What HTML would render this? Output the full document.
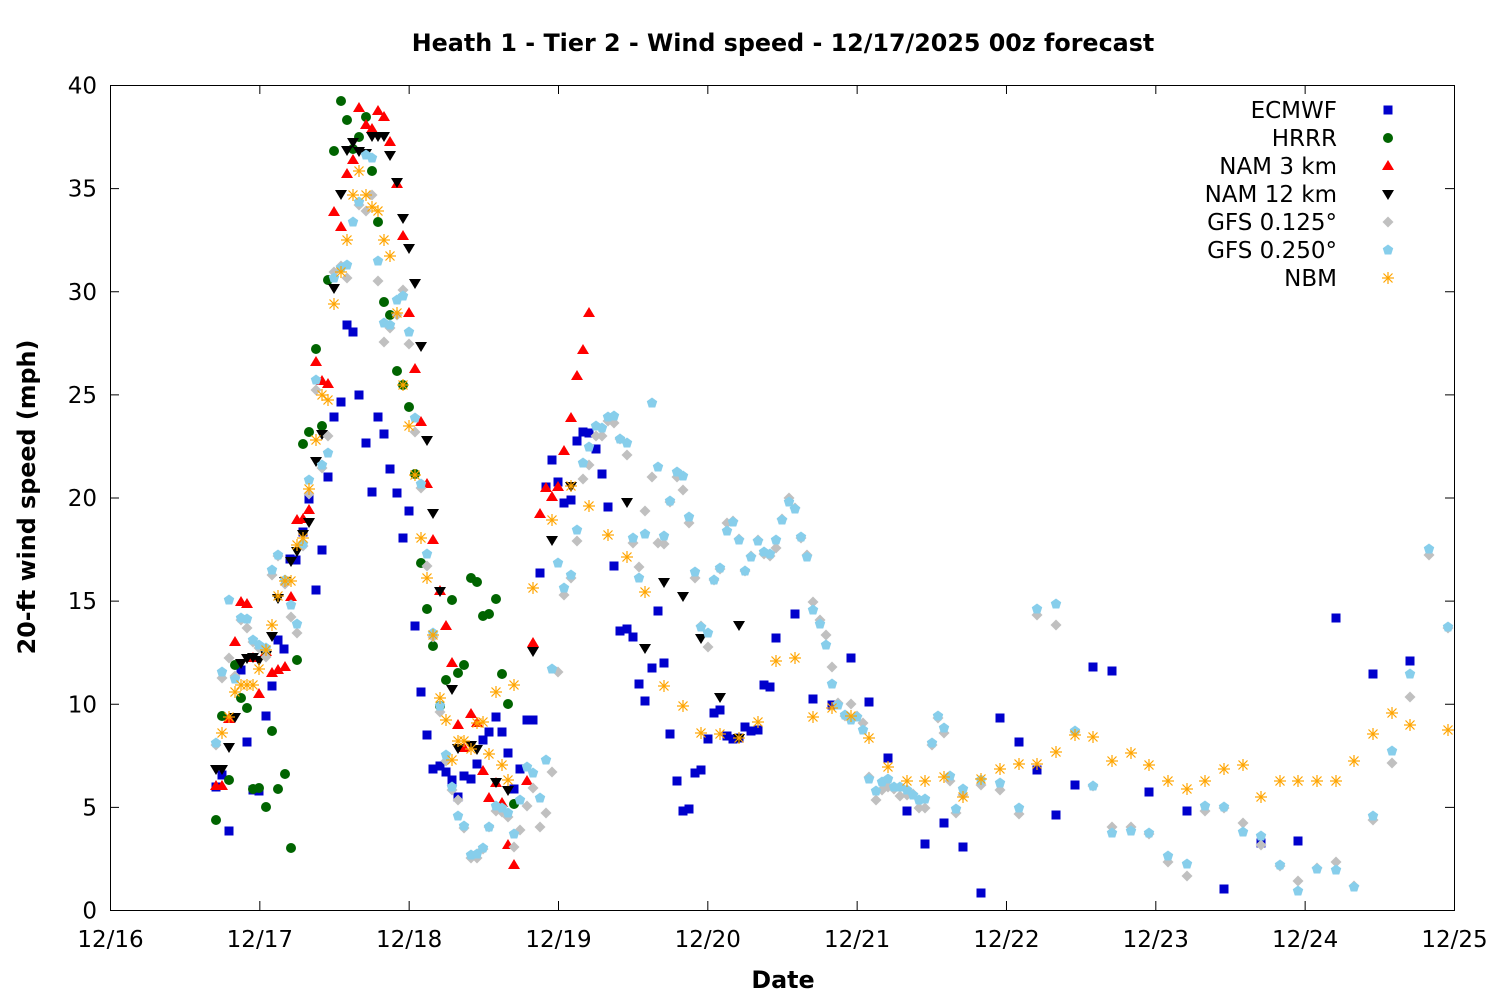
<!DOCTYPE html>
<html><head><meta charset="utf-8"><style>body{margin:0;background:#fff}svg{display:block}text{font-family:"DejaVu Sans","Liberation Sans",sans-serif;font-size:23px}</style></head>
<body>
<svg id="s" width="1500" height="1000" xmlns="http://www.w3.org/2000/svg">
<rect width="1500" height="1000" fill="#fff"/>
<text x="783" y="51" text-anchor="middle" font-weight="bold" style="font-size:23.8px">Heath 1 - Tier 2 - Wind speed - 12/17/2025 00z forecast</text>
<text x="783" y="988" text-anchor="middle" font-weight="bold" style="font-size:23.8px">Date</text>
<text transform="translate(35,497) rotate(-90)" text-anchor="middle" font-weight="bold" style="font-size:23.8px">20-ft wind speed (mph)</text>
<g id="ax"></g>
<g id="pts"></g>
<rect x="110.5" y="85.5" width="1344" height="825" fill="none" stroke="#000" stroke-width="1"/>
</svg>
<script>
const NS="http://www.w3.org/2000/svg";
function el(t,a,p,txt){const e=document.createElementNS(NS,t);for(const k in a)e.setAttribute(k,a[k]);if(txt!==undefined)e.textContent=txt;p.appendChild(e);return e;}
const ax=document.getElementById('ax'),P=document.getElementById('pts');
for(let i=0;i<=8;i++){const v=i*5,y=910-v*20.625+0.5;
 if(i>0&&i<8){el('line',{x1:110,y1:y,x2:119,y2:y,stroke:'#000'},ax);el('line',{x1:1445,y1:y,x2:1454,y2:y,stroke:'#000'},ax);}
 el('text',{x:97,y:y+8,'text-anchor':'end'},ax,String(v));}
const days=['12/16','12/17','12/18','12/19','12/20','12/21','12/22','12/23','12/24','12/25'];
for(let i=0;i<=9;i++){const x=110+i*149.33+0.5;
 if(i>0&&i<9){el('line',{x1:x,y1:901,x2:x,y2:910,stroke:'#000'},ax);el('line',{x1:x,y1:85,x2:x,y2:94,stroke:'#000'},ax);}
 el('text',{x:x,y:947,'text-anchor':'middle'},ax,days[i]);}
function mk(type,x,y){
 if(type==0)el('rect',{x:x-4.5,y:y-4.5,width:9,height:9,fill:'#0000cc'},P);
 else if(type==1)el('circle',{cx:x,cy:y,r:5,fill:'#006400'},P);
 else if(type==2)el('polygon',{points:`${x},${y-6} ${x+6},${y+4} ${x-6},${y+4}`,fill:'#ff0000'},P);
 else if(type==3)el('polygon',{points:`${x},${y+6} ${x+6},${y-4} ${x-6},${y-4}`,fill:'#000'},P);
 else if(type==4)el('polygon',{points:`${x},${y-5.5} ${x+5.5},${y} ${x},${y+5.5} ${x-5.5},${y}`,fill:'#c0c0c0'},P);
 else if(type==5){let s='';for(let k=0;k<5;k++){const a=-Math.PI/2+k*2*Math.PI/5;s+=(x+5.5*Math.cos(a))+','+(y+5.5*Math.sin(a))+' ';}el('polygon',{points:s,fill:'#87ceeb'},P);}
 else {const g={stroke:'#ffa500','stroke-width':1.2};el('line',Object.assign({x1:x-6,y1:y,x2:x+6,y2:y},g),P);el('line',Object.assign({x1:x,y1:y-6,x2:x,y2:y+6},g),P);el('line',Object.assign({x1:x-4.5,y1:y-4.5,x2:x+4.5,y2:y+4.5},g),P);el('line',Object.assign({x1:x-4.5,y1:y+4.5,x2:x+4.5,y2:y-4.5},g),P);}
}
const D=[
[216,787,222,775,229,831,241,670,247,742,253,790,259,791,266,716,272,686,278,640,284,649,290,559,296,560,303,532,309,499,316,590,322,550,328,477,334,417,341,402,347,325,353,332,359,395,366,443,372,492,378,417,384,434,390,469,397,493,403,538,409,511,415,626,421,692,427,735,433,769,440,766,446,772,452,780,458,797,464,776,471,779,477,764,483,740,489,732,496,717,502,732,508,753,514,789,520,769,527,720,533,720,540,573,546,487,552,460,558,482,564,503,571,500,577,441,583,432,589,433,596,449,602,474,608,507,614,566,620,631,627,629,633,637,639,684,645,701,652,668,658,611,664,663,670,734,677,781,683,811,689,809,695,773,701,770,708,739,714,713,720,710,727,736,733,739,739,738,745,727,751,731,758,730,764,685,770,687,776,638,795,614,813,699,832,705,851,658,869,702,888,758,907,811,925,844,944,823,963,847,981,893,1000,718,1019,742,1037,770,1056,815,1075,785,1093,667,1112,671,1149,792,1187,811,1224,889,1261,843,1298,841,1336,618,1373,674,1410,661],
[216,820,222,716,229,780,235,665,241,698,247,708,253,789,259,788,266,807,272,731,278,789,285,774,291,848,297,660,303,444,309,432,316,349,322,426,328,280,334,151,341,101,347,120,353,149,359,137,366,117,372,171,378,222,384,302,390,315,397,371,403,385,409,407,415,474,421,563,427,609,433,646,440,706,446,680,452,600,458,673,464,665,471,578,477,582,483,616,489,614,496,599,502,674,508,704,514,804],
[216,786,222,786,229,719,235,642,241,602,247,604,253,658,259,694,266,652,272,673,278,670,285,667,291,597,297,520,303,519,309,510,316,362,322,381,328,384,334,212,341,227,347,174,353,160,359,108,366,125,372,129,378,111,384,117,390,142,397,184,403,236,409,313,415,369,421,422,427,484,433,540,440,591,446,626,452,663,458,725,464,748,471,714,477,723,483,771,489,798,496,783,502,803,508,845,514,865,527,781,533,643,540,514,546,488,552,497,558,487,564,451,571,418,577,376,583,350,589,313],
[216,769,222,769,229,747,235,717,241,663,247,658,253,657,259,660,266,655,272,636,278,598,285,581,291,561,297,551,303,534,309,522,316,461,322,434,334,288,341,194,347,150,353,142,359,151,366,153,372,136,378,136,384,136,390,155,397,182,403,218,409,248,415,283,421,346,427,440,433,513,440,591,452,689,458,748,471,745,477,749,496,782,508,790,533,651,552,540,571,486,627,502,645,648,664,582,683,596,701,638,720,697,739,625,739,738],
[216,745,222,678,229,658,235,676,241,620,247,628,253,642,259,648,266,657,272,575,278,556,285,584,291,617,297,633,303,546,309,494,316,390,322,468,328,436,334,272,341,266,347,278,359,205,366,211,372,195,378,281,384,342,390,328,397,315,403,290,409,344,415,432,421,488,427,566,433,637,440,712,446,761,452,790,458,800,464,828,471,858,477,858,483,849,489,827,496,811,502,812,508,817,514,847,520,830,527,806,533,788,540,827,546,813,552,772,558,672,564,595,571,578,577,541,583,479,589,465,596,436,602,436,608,421,614,423,620,439,627,455,633,543,639,567,645,511,652,477,658,543,664,544,670,502,677,477,683,490,689,523,695,578,701,626,708,647,714,580,720,569,727,523,733,521,739,539,745,571,751,556,758,540,764,554,770,556,776,548,782,519,789,498,795,508,801,538,807,555,813,602,820,620,826,635,832,667,838,703,845,716,851,704,857,716,863,723,869,777,876,800,882,790,888,787,894,789,900,796,907,795,913,794,919,808,925,808,932,745,938,718,944,733,950,781,956,813,963,795,981,785,1000,790,1019,814,1037,615,1056,625,1075,732,1093,786,1112,827,1131,827,1149,834,1168,862,1187,876,1205,811,1224,808,1243,823,1261,845,1280,866,1298,881,1317,868,1336,862,1354,886,1373,820,1392,763,1410,697,1429,555,1448,628],
[216,743,222,672,229,600,235,679,241,618,247,619,253,640,259,645,266,648,272,570,278,555,285,580,291,605,297,624,303,544,309,480,316,380,322,465,328,453,334,278,341,268,347,265,353,222,359,202,366,155,372,158,378,261,384,323,390,325,397,300,403,296,409,332,415,418,421,484,427,554,433,633,440,706,446,755,452,787,458,816,464,826,471,855,477,854,483,848,489,827,496,806,502,808,508,813,514,834,520,800,527,767,533,773,540,798,546,760,552,669,558,563,564,588,571,575,577,530,583,463,589,447,596,426,602,428,608,417,614,416,620,439,627,443,633,538,639,578,645,534,652,403,658,467,664,536,670,501,677,472,683,476,689,517,695,572,701,627,708,633,714,580,720,568,727,531,733,522,739,540,745,571,751,557,758,541,764,552,770,554,776,540,782,520,789,502,795,509,801,537,807,557,813,610,820,624,826,645,832,684,838,705,845,715,851,720,857,717,863,730,869,779,876,791,882,782,888,779,894,787,900,787,907,790,913,795,919,800,925,799,932,743,938,716,944,728,950,776,956,809,963,789,981,780,1000,783,1019,808,1037,609,1056,604,1075,731,1093,786,1112,833,1131,831,1149,833,1168,856,1187,864,1205,806,1224,807,1243,832,1261,836,1280,865,1298,891,1317,869,1336,870,1354,887,1373,816,1392,751,1410,674,1429,549,1448,627],
[222,733,229,717,235,692,241,685,247,685,253,685,259,669,266,650,272,625,278,596,285,581,291,581,297,545,303,538,309,489,316,440,322,395,328,400,334,304,341,272,347,240,353,195,359,171,366,195,372,207,378,211,384,240,390,256,397,313,403,385,409,426,415,475,421,538,427,578,433,635,440,698,446,720,452,760,458,741,464,741,471,749,477,723,483,722,489,754,496,692,502,765,508,780,514,685,533,588,552,520,571,486,589,506,608,535,627,557,645,592,664,686,683,706,701,733,720,734,739,738,758,722,776,661,795,658,813,717,832,708,851,716,869,738,888,767,907,781,925,781,944,777,963,797,981,779,1000,769,1019,764,1037,764,1056,752,1075,735,1093,737,1112,761,1131,753,1149,765,1168,781,1187,789,1205,781,1224,769,1243,765,1261,797,1280,781,1298,781,1317,781,1336,781,1354,761,1373,734,1392,713,1410,725,1448,730]];
D.forEach((a,t)=>{for(let i=0;i<a.length;i+=2)mk(t,a[i],a[i+1]);});
const names=['ECMWF','HRRR','NAM 3 km','NAM 12 km','GFS 0.125°','GFS 0.250°','NBM'];
names.forEach((n,i)=>{const y=110+i*28;el('text',{x:1337,y:y+8,'text-anchor':'end'},ax,n);mk(i,1388,y);});
</script>
</body></html>
